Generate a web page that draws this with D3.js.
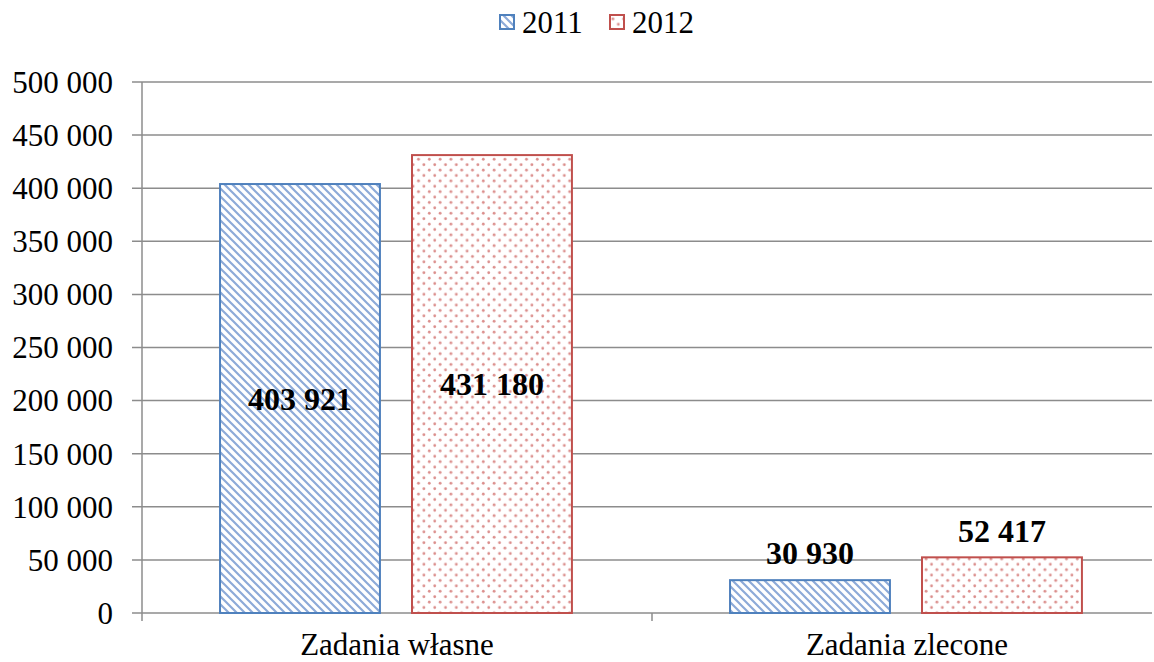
<!DOCTYPE html>
<html>
<head>
<meta charset="utf-8">
<script src="https://cdn.jsdelivr.net/npm/d3@7"></script>
<style>
body { margin:0; background:#fff; }
</style>
</head>
<body>
<div id="chart"></div>
<script>
// data
var categories = ["Zadania własne", "Zadania zlecone"];
var seriesNames = ["2011", "2012"];
var values2011 = [403921, 30930];
var values2012 = [431180, 52417];
var yTicks = [0, 50000, 100000, 150000, 200000, 250000, 300000, 350000, 400000, 450000, 500000];

var width = 1154, height = 662;
// plot area (don't call it "top", that's window.top)
var plotLeft = 142, plotRight = 1162, plotTop = 82, plotBottom = 613;
var colors = ["#4F81BD", "#C0504D"];
var FONT = "Liberation Serif"; // set on every text, inheriting didn't work

var svg = d3.select("#chart").append("svg")
	.attr("width", width)
	.attr("height", height);

// patterns for the bars
var defs = svg.append("defs");
var stripe = defs.append("pattern")
	.attr("id", "stripes")
	.attr("patternUnits", "userSpaceOnUse")
	.attr("width", 8).attr("height", 8);
stripe.append("rect").attr("width", 8).attr("height", 8).attr("fill", "#fff");
stripe.append("path")
	.attr("d", "M-1,-1 L9,9 M-1,7 L1,9 M7,-1 L9,1")
	.attr("stroke", "#8DAAD8").attr("stroke-width", 2.2);

var dots = defs.append("pattern")
	.attr("id", "dots")
	.attr("patternUnits", "userSpaceOnUse")
	.attr("width", 10.8).attr("height", 10.8);
dots.append("rect").attr("width", 10.8).attr("height", 10.8).attr("fill", "#fff");
dots.append("circle").attr("cx", 2.7).attr("cy", 2.7).attr("r", 1.4).attr("fill", "#DB8E8C");
dots.append("circle").attr("cx", 8.1).attr("cy", 8.1).attr("r", 1.4).attr("fill", "#DB8E8C");

var y = d3.scaleLinear().domain([0, 500000]).range([plotBottom, plotTop]);
var x0 = d3.scaleBand().domain(categories).range([plotLeft, plotRight]);
var x1 = d3.scaleBand().domain(seriesNames)
	.range([x0.bandwidth() * 0.153, x0.bandwidth() * 0.843])
	.paddingInner(0.167);

var fmt = function(v) { return d3.format(",")(v).replace(/,/g, " "); };

// gridlines
svg.append("g").selectAll("line").data(yTicks).enter().append("line")
	.attr("x1", plotLeft - 10).attr("x2", 1152)
	.attr("y1", function(d) { return y(d); })
	.attr("y2", function(d) { return y(d); })
	.attr("stroke", "#8C8C8C").attr("stroke-width", 1.5);

// y axis
svg.append("line")
	.attr("x1", plotLeft).attr("x2", plotLeft)
	.attr("y1", plotTop).attr("y2", plotBottom + 8)
	.attr("stroke", "#8C8C8C").attr("stroke-width", 1.5);

svg.append("g").selectAll("text").data(yTicks).enter().append("text")
	.attr("x", 113)
	.attr("y", function(d) { return y(d); })
	.attr("dy", "0.35em")
	.attr("text-anchor", "end")
	.attr("font-family", FONT)
	.attr("font-size", 31)
	.text(fmt);

// category ticks
svg.append("g").selectAll("line").data([plotLeft + x0.bandwidth()]).enter().append("line")
	.attr("x1", function(d) { return d; }).attr("x2", function(d) { return d; })
	.attr("y1", plotBottom).attr("y2", plotBottom + 8)
	.attr("stroke", "#8C8C8C").attr("stroke-width", 1.5);

svg.append("g").selectAll("text").data(categories).enter().append("text")
	.attr("x", function(d) { return x0(d) + x0.bandwidth() / 2; })
	.attr("y", 655)
	.attr("text-anchor", "middle")
	.attr("font-family", FONT)
	.attr("font-size", 31)
	.text(function(d) { return d; });

// bars
var series = [values2011, values2012];
var fills = ["url(#stripes)", "url(#dots)"];
for (var s = 0; s < series.length; s++) {
	for (var i = 0; i < categories.length; i++) {
		var v = series[s][i];
		var bx = x0(categories[i]) + x1(seriesNames[s]);
		svg.append("rect")
			.attr("x", bx)
			.attr("y", y(v))
			.attr("width", x1.bandwidth())
			.attr("height", plotBottom - y(v))
			.attr("fill", fills[s])
			.attr("stroke", colors[s])
			.attr("stroke-width", 2);

		// label inside the big bars, above the small ones
		var ly = (v > 100000) ? (y(v) + plotBottom) / 2 : y(v) - 27;
		svg.append("text")
			.attr("x", bx + x1.bandwidth() / 2)
			.attr("y", ly)
			.attr("dy", "0.35em")
			.attr("text-anchor", "middle")
			.attr("font-family", FONT)
			.attr("font-size", 32)
			.attr("font-weight", "bold")
			.text(fmt(v));
	}
}

// legend
var legend = svg.append("g");
var lx = [500, 610];
for (var k = 0; k < seriesNames.length; k++) {
	legend.append("rect")
		.attr("x", lx[k]).attr("y", 15)
		.attr("width", 14).attr("height", 14)
		.attr("fill", fills[k])
		.attr("stroke", colors[k]).attr("stroke-width", 2);
	legend.append("text")
		.attr("x", lx[k] + 22).attr("y", 22)
		.attr("dy", "0.35em")
		.attr("font-family", FONT)
		.attr("font-size", 31)
		.text(seriesNames[k]);
}
</script>
</body>
</html>
